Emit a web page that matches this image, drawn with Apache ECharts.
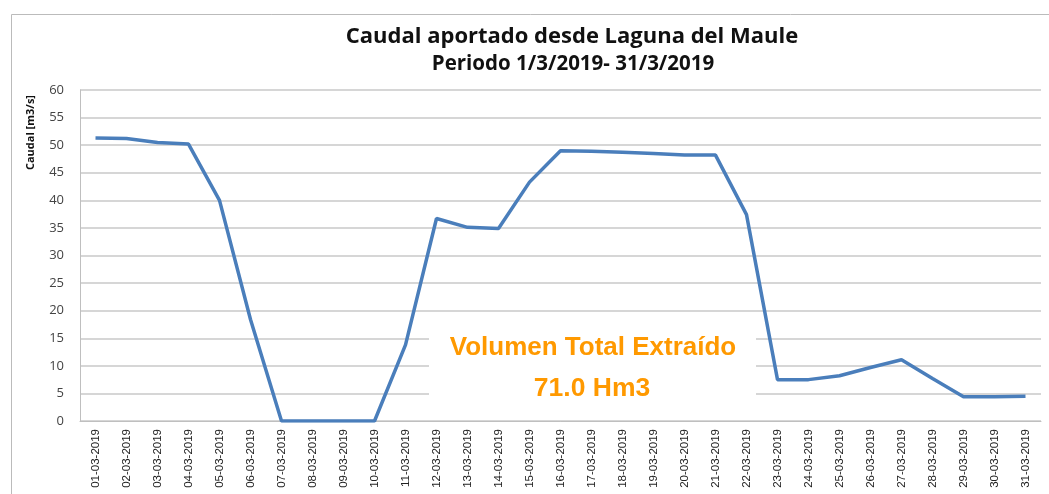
<!DOCTYPE html>
<html>
<head>
<meta charset="utf-8">
<script src="https://cdn.jsdelivr.net/npm/echarts@6/dist/echarts.min.js"></script>
<style>
  html, body { margin: 0; padding: 0; background: #fff; }
  #chart { width: 1049px; height: 494px; }
</style>
</head>
<body>
<div id="chart"></div>
<script>
// fechas del periodo
const fechas = ['01-03-2019', '02-03-2019', '03-03-2019', '04-03-2019', '05-03-2019', '06-03-2019', '07-03-2019', '08-03-2019',
  '09-03-2019', '10-03-2019', '11-03-2019', '12-03-2019', '13-03-2019', '14-03-2019', '15-03-2019', '16-03-2019',
  '17-03-2019', '18-03-2019', '19-03-2019', '20-03-2019', '21-03-2019', '22-03-2019', '23-03-2019', '24-03-2019',
  '25-03-2019', '26-03-2019', '27-03-2019', '28-03-2019', '29-03-2019', '30-03-2019', '31-03-2019'];
// caudal [m3/s]
const caudal = [51.3, 51.2, 50.5, 50.2, 40.0, 18.4, 0, 0, 0, 0, 13.8, 36.7, 35.1, 34.9, 43.3, 49.0,
  48.9, 48.7, 48.5, 48.2, 48.2, 37.4, 7.5, 7.5, 8.2, 9.7, 11.1, 7.7, 4.4, 4.4, 4.5];
const yTicks = { min: 0, max: 60, interval: 5 };

const chart = echarts.init(document.getElementById('chart'));
chart.setOption({
  animation: false,
  title: [{
    text: 'Caudal aportado desde Laguna del Maule',
    left: 572, top: 26, textAlign: 'center', padding: 0,
    textStyle: { fontFamily: 'Open Sans', fontWeight: 'bold', fontSize: 22, color: '#111' }
  }, {
    text: 'Periodo 1/3/2019- 31/3/2019',
    left: 573, top: 54, textAlign: 'center', padding: 0,
    textStyle: { fontFamily: 'Open Sans', fontWeight: 'bold', fontSize: 20.5, color: '#111' }
  }],
  grid: { left: 80, right: 8, top: 90, bottom: 73, containLabel: false },
  xAxis: {
    type: 'category',
    data: fechas,
    boundaryGap: true,
    axisLine: { lineStyle: { color: '#bfbfbf', width: 1 } },
    axisTick: { show: false },
    axisLabel: { rotate: 90, interval: 0, fontSize: 11.5, color: '#222', fontFamily: 'Liberation Sans Narrow, Liberation Sans', margin: 8 }
  },
  yAxis: {
    type: 'value',
    min: yTicks.min, max: yTicks.max, interval: yTicks.interval,
    axisLine: { show: true, lineStyle: { color: '#bfbfbf' } },
    axisTick: { show: false },
    axisLabel: { fontSize: 13, color: '#444', margin: 16, fontFamily: 'Open Sans' },
    splitLine: { lineStyle: { color: '#c8c8c8', width: 1.5 } }
  },
  series: [{
    type: 'line',
    data: caudal,
    symbol: 'none',
    lineStyle: { color: '#4a7ebb', width: 3.5 },
    z: 1
  }],
  graphic: [
    { type: 'rect', left: 9, top: 12, shape: { width: 1040, height: 482 }, style: { fill: 'none', stroke: '#bbb', lineWidth: 1 }, silent: true },
    { type: 'rect', left: 429, top: 317, shape: { width: 327, height: 96 }, style: { fill: '#fff' }, z: 10 },
    { type: 'text', x: 593, y: 348, style: { text: 'Volumen Total Extraído', fill: '#ff9900', font: 'bold 26px "Liberation Sans"', align: 'center', verticalAlign: 'middle' }, z: 11 },
    { type: 'text', x: 592, y: 389, style: { text: '71.0 Hm3', fill: '#ff9900', font: 'bold 26.5px "Liberation Sans"', align: 'center', verticalAlign: 'middle' }, z: 11 },
    { type: 'text', left: 25, top: 95, rotation: Math.PI / 2, style: { text: 'Caudal [m3/s]', fill: '#111', font: 'bold 11px "Open Sans"' } }
  ]
});
</script>
</body>
</html>
